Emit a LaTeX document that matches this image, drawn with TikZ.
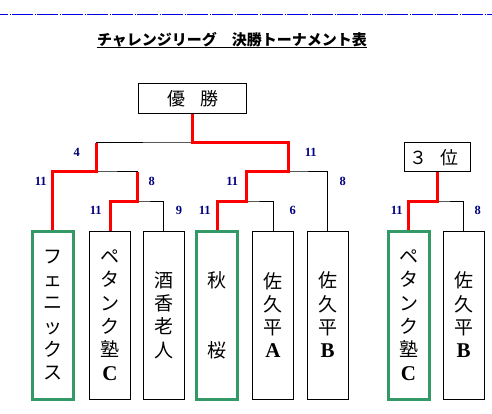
\documentclass[tikz,border=0pt]{standalone}
\usepackage{fontspec}
\setmainfont{Liberation Serif}
\newfontfamily\jp{Noto Sans CJK JP}
\definecolor{navyscore}{RGB}{0,0,128}
\definecolor{teamgreen}{RGB}{51,153,102}
\definecolor{winred}{RGB}{255,0,0}
\definecolor{rulerblue}{RGB}{0,0,230}
\newcommand{\lat}[1]{{\rmfamily\bfseries\fontsize{21pt}{23.3pt}\selectfont #1}}
\begin{document}
\begin{tikzpicture}[x=1pt,y=-1pt,
  team/.style={draw=black, line width=1pt, minimum width=41pt, minimum height=168pt, inner sep=0pt},
  teamwin/.style={team, draw=teamgreen, line width=3pt},
  teamtext/.style={align=center, inner sep=0pt, font=\jp\fontsize{19pt}{23.3pt}\selectfont},
  titlebox/.style={draw=black, line width=1pt, inner sep=0pt},
  titletext/.style={inner sep=0pt, font=\jp\fontsize{18pt}{18pt}\selectfont},
  score/.style={inner sep=0pt, text=navyscore, font=\rmfamily\bfseries\fontsize{12.5pt}{13pt}\selectfont},
  bline/.style={draw=black, line width=1pt},
  rline/.style={draw=winred, line width=3pt},
  ruler/.style={draw=rulerblue, line width=1.3pt, dash pattern=on 21pt off 1.5pt on 1pt off 1.5pt, dash phase=13pt}
]
\useasboundingbox (0,0) rectangle (492,414);

% top ruler
\coordinate (rl) at (0,14.7);
\coordinate (rr) at (492,14.7);
\draw[ruler] (rl) -- (rr);

% title
\node[inner sep=0pt, anchor=base, font=\jp\bfseries\fontsize{15pt}{15pt}\selectfont] (title) at (232,45.7) {チャレンジリーグ　決勝トーナメント表};
\draw[line width=1pt] (title.south west) -- (title.south east);

% winner and third boxes
\node[titlebox, minimum width=108pt, minimum height=30pt] (win) at (192,99) {};
\node[titletext] (wintext) at (193.3,99) {優\hspace{15pt}勝};
\node[titlebox, minimum width=66pt, minimum height=29pt] (third) at (437,157.5) {};
\node[titletext] (thirdtext) at (433.8,158) {３\hspace{13pt}位};

% team boxes
\node[teamwin] (t1) at (52.5,315) {};
\node[team] (t2) at (110,315) {};
\node[team] (t3) at (163.5,315) {};
\node[teamwin] (t4) at (217,315) {};
\node[team] (t5) at (273,315) {};
\node[team] (t6) at (327.5,315) {};
\node[teamwin] (t7) at (408.5,315) {};
\node[team] (t8) at (463.5,315) {};

\node[teamtext] (n1) at (t1.center) {フ\\ェ\\ニ\\ッ\\ク\\ス};
\node[teamtext] (n2) at (t2.center) {ペ\\タ\\ン\\ク\\塾\\\lat{C}};
\node[teamtext] (n3) at (t3.center) {酒\\香\\老\\人};
\node[teamtext] (n4) at (t4.center) {秋\\　\\　\\桜};
\node[teamtext] (n5) at (t5.center) {佐\\久\\平\\\lat{A}};
\node[teamtext] (n6) at (t6.center) {佐\\久\\平\\\lat{B}};
\node[teamtext] (n7) at (t7.center) {ペ\\タ\\ン\\ク\\塾\\\lat{C}};
\node[teamtext] (n8) at (t8.center) {佐\\久\\平\\\lat{B}};

% junctions
\coordinate (qL) at (137.5,201);
\coordinate (qR) at (246,201);
\coordinate (sL) at (96,172);
\coordinate (sR) at (288,172);
\coordinate (fin) at (192,143);
\coordinate (thr) at (437,201);

% black bracket lines
\draw[bline] (t2.north) |- (qL) -| (t3.north);
\draw[bline] (t4.north) |- (qR) -| (t5.north);
\draw[bline] (t1.north) |- (sL) -| (qL);
\draw[bline] (qR) |- (sR) -| (t6.north);
\draw[bline] (sL) |- (fin) -| (sR);
\draw[bline] (win.south) -- (fin);
\draw[bline] (t7.north) |- (thr) -| (t8.north);
\draw[bline] (third.south) -- (thr);

% red winner paths
\draw[rline] (t2.north) |- (qL) -- (qL |- sL);
\draw[rline] (t1.north) |- (sL) -- (sL |- fin);
\draw[rline] (win.south) -- (fin) -| (sR) -| (qR) -| (t4.north);
\draw[rline] (third.south) -- (thr) -| (t7.north);

% scores
\node[score] (s1) at (76.7,152.3) {4};
\node[score] (s2) at (310.7,152.3) {11};
\node[score] (s3) at (40.7,181) {11};
\node[score] (s4) at (151.7,181) {8};
\node[score] (s5) at (232.3,181) {11};
\node[score] (s6) at (342.7,181) {8};
\node[score] (s7) at (95.7,210) {11};
\node[score] (s8) at (179,210) {9};
\node[score] (s9) at (204.7,210) {11};
\node[score] (s10) at (292.7,210) {6};
\node[score] (s11) at (396.7,210) {11};
\node[score] (s12) at (477.7,210) {8};
\end{tikzpicture}
\end{document}
